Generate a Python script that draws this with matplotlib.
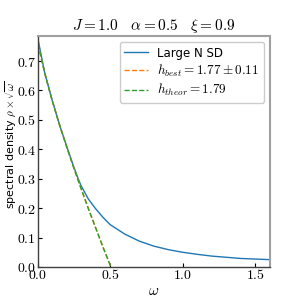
#!/usr/bin/env python3

import matplotlib

matplotlib.use("Agg")
import matplotlib.pyplot as plt
from matplotlib.ticker import FuncFormatter

plt.rcParams["mathtext.fontset"] = "cm"

OUTPUT_FILE = "out.png"

J = 1.0
ALPHA = 0.5
XI = 0.9
H_BEST = 1.77
H_BEST_ERR = 0.11
H_THEOR = 1.79

# large N spectral density
omega_sd = [0.0, 0.05, 0.1, 0.15, 0.2, 0.25, 0.28, 0.3, 0.35, 0.4, 0.45, 0.5,
            0.6, 0.7, 0.8, 0.9, 1.0, 1.1, 1.2, 1.3, 1.4, 1.5, 1.6]
rho_sd = [0.782, 0.659, 0.568, 0.486, 0.411, 0.340, 0.300, 0.276, 0.231,
          0.198, 0.169, 0.144, 0.112, 0.088, 0.071, 0.059, 0.050, 0.043,
          0.037, 0.033, 0.029, 0.027, 0.025]

# low frequency fits
omega_fit = [0.0, 0.02, 0.05, 0.1, 0.15, 0.2, 0.25, 0.3, 0.35, 0.4, 0.45,
             0.5, 0.52]
rho_best = [0.782, 0.723, 0.659, 0.568, 0.486, 0.410, 0.337, 0.267, 0.199,
            0.134, 0.069, 0.007, -0.018]
rho_theor = [0.782, 0.722, 0.658, 0.567, 0.485, 0.409, 0.336, 0.266, 0.198,
             0.133, 0.068, 0.006, -0.019]


def plot_sd():
    fig = plt.figure(figsize=(3, 3), dpi=100)
    ax = fig.add_axes([0.125, 0.11, 0.775, 0.77])

    ax.plot(omega_sd, rho_sd, color="C0", lw=1.0, label="Large N SD")
    ax.plot(omega_fit, rho_best, "--", color="C1", lw=1.0,
            label=rf"$h_{{best}} = {H_BEST:.2f} \pm {H_BEST_ERR:.2f}$")
    ax.plot(omega_fit, rho_theor, "--", color="C2", lw=1.0,
            label=rf"$h_{{theor}} = {H_THEOR:.2f}$")

    ax.set_xlim(0, 1.6)
    ax.set_ylim(0, 0.785)
    ax.set_xticks([0.0, 0.5, 1.0, 1.5])
    ax.set_yticks([0.0, 0.1, 0.2, 0.3, 0.4, 0.5, 0.6, 0.7])
    fmt = FuncFormatter(lambda v, pos: f"${v:.1f}$")
    ax.xaxis.set_major_formatter(fmt)
    ax.yaxis.set_major_formatter(fmt)
    ax.tick_params(direction="in", labelsize=10, length=3, pad=1)

    for side in ("top", "right"):
        ax.spines[side].set_color("#a0a0a0")
        ax.spines[side].set_linewidth(1.5)
    for side in ("left", "bottom"):
        ax.spines[side].set_color("#404040")
        ax.spines[side].set_linewidth(1.0)

    ax.set_title(rf"$J = {J:.1f} \quad \alpha = {ALPHA:.1f} \quad \xi = {XI:.1f}$",
                 fontsize=11, pad=4)
    ax.set_xlabel(r"$\omega$", fontsize=11)
    ax.xaxis.set_label_coords(0.5, -0.07)
    ax.set_ylabel(r"spectral density $\rho \times \sqrt{\omega}$", fontsize=8)
    ax.yaxis.set_label_coords(-0.085, 0.53)

    leg = ax.legend(loc="upper right", fontsize=8.5, handlelength=2.0,
                    borderaxespad=0.5, labelspacing=0.25, framealpha=1.0)
    for t in leg.get_texts()[1:]:
        t.set_fontsize(9.5)

    fig.savefig(OUTPUT_FILE, dpi=100)
    plt.close(fig)


if __name__ == "__main__":
    plot_sd()
